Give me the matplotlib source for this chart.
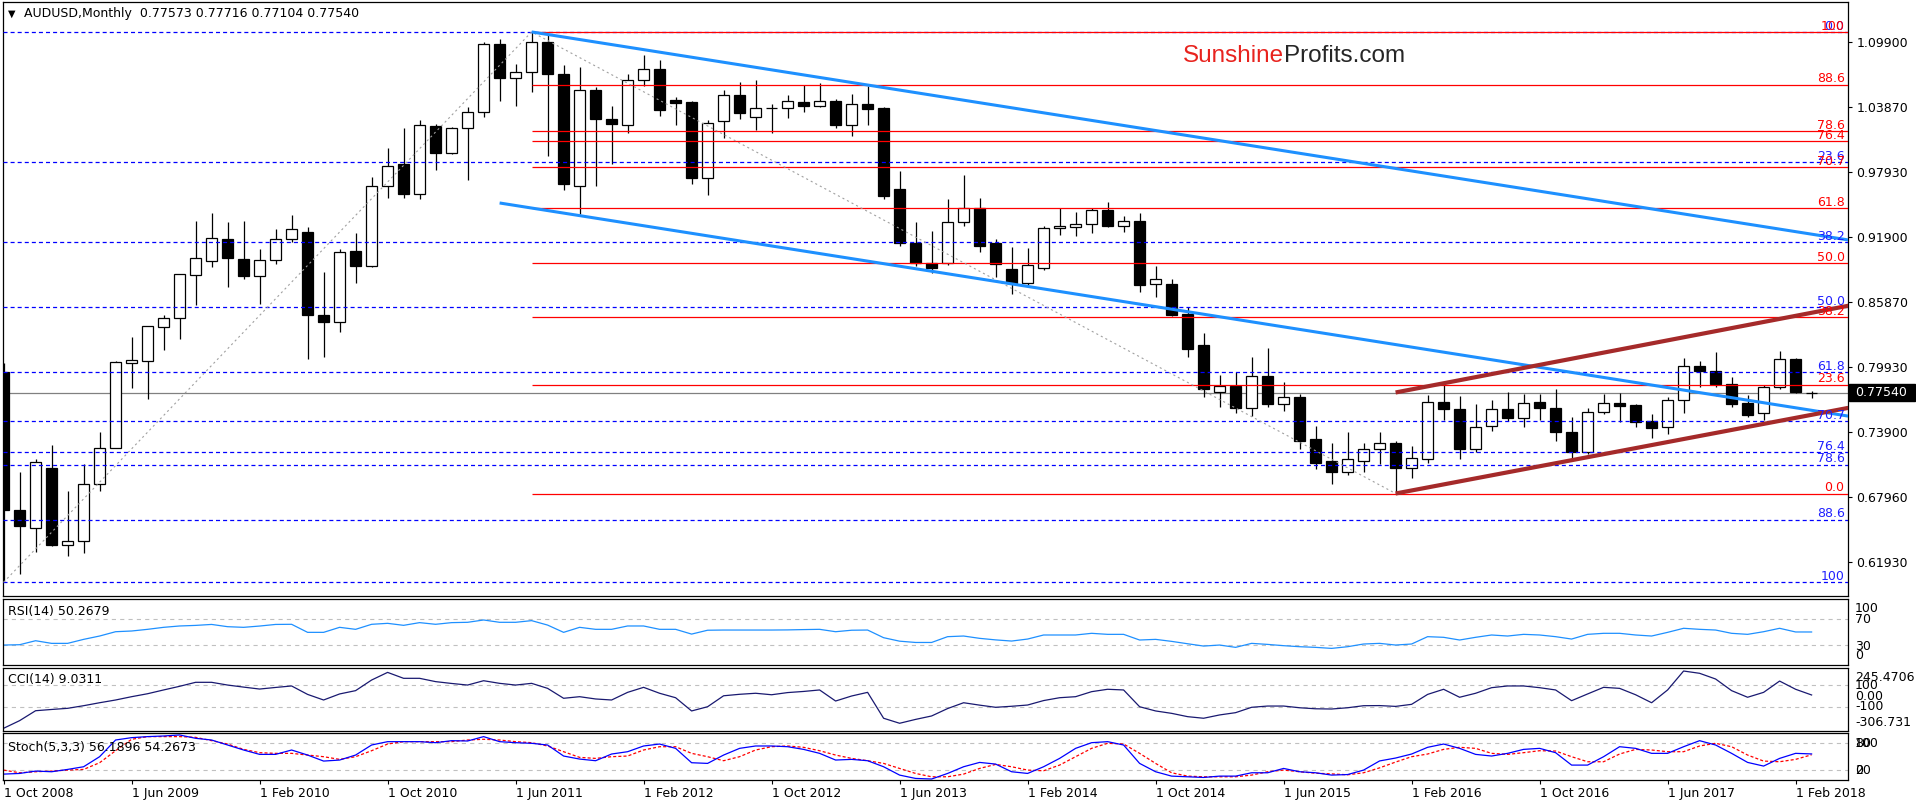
import numpy as np
import matplotlib
matplotlib.use("Agg")
import matplotlib.pyplot as plt
from matplotlib.patches import Rectangle
from matplotlib.transforms import blended_transform_factory

plt.rcParams["font.family"] = ["DejaVu Sans"]
plt.rcParams["lines.scale_dashes"] = False

W, H = 1916, 807

# ---- monthly AUDUSD candles, Oct 2008 .. Mar 2018 ----
opens = [0.7947, 0.6677, 0.6513, 0.7062, 0.6355, 0.6392, 0.6911, 0.7250, 0.8034, 0.8051,
         0.8359, 0.8440, 0.8838, 0.8965, 0.9169, 0.8992, 0.8835, 0.8975, 0.9169, 0.9237,
         0.8476, 0.8409, 0.9062, 0.8925, 0.9665, 0.9859, 0.9589, 1.0209, 0.9967, 1.0191,
         1.0339, 1.0965, 1.0660, 1.0714, 1.0990, 1.0688, 0.9656, 1.0543, 1.0279, 1.0225,
         1.0637, 1.0737, 1.0453, 1.0433, 0.9730, 1.0262, 1.0500, 1.0292, 1.0379, 1.0375,
         1.0430, 1.0399, 1.0443, 1.0225, 1.0412, 1.0379, 0.9632, 0.9136, 0.8954, 0.8948,
         0.9326, 0.9460, 0.9132, 0.8893, 0.8769, 0.8902, 0.9271, 0.9285, 0.9313, 0.9439,
         0.9295, 0.9338, 0.8755, 0.8758, 0.8478, 0.8196, 0.7759, 0.7818, 0.7612, 0.7910,
         0.7649, 0.7714, 0.7327, 0.7127, 0.7022, 0.7127, 0.7234, 0.7290, 0.7065, 0.7148,
         0.7668, 0.7603, 0.7234, 0.7449, 0.7603, 0.7520, 0.7668, 0.7612, 0.7391, 0.7212,
         0.7581, 0.7658, 0.7642, 0.7495, 0.7436, 0.7686, 0.8005, 0.7956, 0.7833, 0.7664,
         0.7566, 0.7806, 0.8067, 0.77573]
highs = [0.8030, 0.7025, 0.7142, 0.7277, 0.6848, 0.7103, 0.7394, 0.8048, 0.8269, 0.8370,
         0.8476, 0.8854, 0.9338, 0.9411, 0.9327, 0.9338, 0.9080, 0.9264, 0.9390, 0.9280,
         0.8868, 0.9080, 0.9227, 0.9743, 1.0011, 1.0195, 1.0265, 1.0228, 1.0201, 1.0385,
         1.0983, 1.1012, 1.0781, 1.1080, 1.1056, 1.0771, 1.0761, 1.0570, 1.0393, 1.0688,
         1.0872, 1.0821, 1.0480, 1.0440, 1.0269, 1.0543, 1.0620, 1.0637, 1.0420, 1.0500,
         1.0594, 1.0610, 1.0463, 1.0504, 1.0586, 1.0386, 0.9799, 0.9331, 0.9246, 0.9541,
         0.9762, 0.9550, 0.9169, 0.9101, 0.9086, 0.9295, 0.9460, 0.9418, 0.9460, 0.9516,
         0.9384, 0.9409, 0.8923, 0.8801, 0.8548, 0.8303, 0.7919, 0.7949, 0.8088, 0.8171,
         0.7852, 0.7744, 0.7449, 0.7295, 0.7394, 0.7290, 0.7394, 0.7311, 0.7265, 0.7735,
         0.7833, 0.7726, 0.7649, 0.7689, 0.7760, 0.7744, 0.7744, 0.7790, 0.7529, 0.7612,
         0.7744, 0.7756, 0.7651, 0.7560, 0.7714, 0.8073, 0.8048, 0.8128, 0.7903, 0.7735,
         0.7827, 0.8140, 0.8076, 0.77716]
lows = [0.6009, 0.6081, 0.6292, 0.6345, 0.6248, 0.6282, 0.6851, 0.7243, 0.7796, 0.7698,
        0.8151, 0.8248, 0.8567, 0.8911, 0.8734, 0.8801, 0.8577, 0.8938, 0.9146, 0.8067,
        0.8085, 0.8315, 0.8771, 0.8915, 0.9548, 0.9548, 0.9538, 0.9810, 0.9951, 0.9716,
        1.0292, 1.0446, 1.0393, 1.0530, 0.9933, 0.9625, 0.9398, 0.9662, 0.9867, 1.0151,
        1.0580, 1.0309, 1.0225, 0.9675, 0.9582, 1.0101, 1.0279, 1.0178, 1.0151, 1.0285,
        1.0346, 1.0385, 1.0191, 1.0117, 1.0225, 0.9538, 0.9112, 0.8925, 0.8856, 0.8933,
        0.9295, 0.9055, 0.8825, 0.8663, 0.8748, 0.8886, 0.9209, 0.9200, 0.9230, 0.9285,
        0.9239, 0.8687, 0.8640, 0.8460, 0.8088, 0.7719, 0.7627, 0.7566, 0.7541, 0.7621,
        0.7590, 0.7240, 0.7050, 0.6912, 0.6997, 0.7022, 0.7099, 0.6827, 0.6973, 0.7111,
        0.7504, 0.7148, 0.7212, 0.7406, 0.7498, 0.7443, 0.7504, 0.7314, 0.7151, 0.7190,
        0.7557, 0.7489, 0.7443, 0.7336, 0.7373, 0.7572, 0.7811, 0.7806, 0.7627, 0.7535,
        0.7504, 0.7793, 0.7755, 0.77104]
closes = [0.6677, 0.6523, 0.7113, 0.6355, 0.6392, 0.6911, 0.7250, 0.8037, 0.8057, 0.8366,
          0.8440, 0.8848, 0.8995, 0.9177, 0.9000, 0.8835, 0.8975, 0.9169, 0.9260, 0.8473,
          0.8409, 0.9052, 0.8925, 0.9659, 0.9849, 0.9589, 1.0218, 0.9967, 1.0191, 1.0339,
          1.0965, 1.0660, 1.0714, 1.0990, 1.0688, 0.9683, 1.0543, 1.0275, 1.0235, 1.0637,
          1.0737, 1.0363, 1.0426, 0.9730, 1.0242, 1.0500, 1.0336, 1.0379, 1.0381, 1.0443,
          1.0393, 1.0439, 1.0225, 1.0412, 1.0373, 0.9572, 0.9136, 0.8952, 0.8902, 0.9326,
          0.9460, 0.9110, 0.8939, 0.8764, 0.8930, 0.9271, 0.9289, 0.9307, 0.9439, 0.9292,
          0.9335, 0.8751, 0.8801, 0.8472, 0.8161, 0.7787, 0.7820, 0.7612, 0.7910, 0.7649,
          0.7714, 0.7314, 0.7111, 0.7022, 0.7142, 0.7234, 0.7290, 0.7065, 0.7151, 0.7668,
          0.7608, 0.7234, 0.7443, 0.7603, 0.7520, 0.7658, 0.7612, 0.7391, 0.7212, 0.7581,
          0.7658, 0.7636, 0.7489, 0.7433, 0.7686, 0.8005, 0.7956, 0.7836, 0.7652, 0.7550,
          0.7806, 0.8064, 0.7760, 0.77540]

rsi = [30, 30.5, 36.7, 32.6, 32.6, 38.8, 44, 50.7, 51.8, 54.4,
       57.5, 59.6, 60.5, 62, 58.5, 57.5, 59.5, 62, 62.2, 49.7,
       49.7, 57.5, 54.4, 62.2, 63.7, 60.6, 64.8, 62.2, 64.8, 65.3,
       68.9, 65.3, 65.3, 67.9, 61, 49.7, 57.5, 54.4, 54.4, 59.6,
       59.6, 54.4, 54.4, 47, 53, 53.3, 53.3, 53.3, 53.3, 53.5,
       54, 54.4, 50.7, 53, 53.3, 41.4, 36, 34, 34, 43,
       44, 40.4, 38, 36.2, 39.3, 45.6, 45.6, 45.6, 48.2, 46.6,
       46.6, 37.8, 38.8, 35.7, 32, 28.4, 30, 26.4, 32.6, 31,
       29, 27.4, 26.4, 24.8, 27.4, 31.6, 32.6, 30, 31.6, 43,
       42, 37.8, 42, 45.6, 44, 46.6, 45.6, 43, 39.3, 46.6,
       48.2, 48.2, 45.6, 44, 49.7, 56, 54.4, 53.3, 48.2, 46.6,
       50.7, 56, 50.3, 50.27]
cci = [-283, -216, -129, -118, -108, -85, -59, -35, -6, 20,
       53, 85, 120, 120, 96, 78, 61, 75, 88, 14,
       -35, 18, 47, 140, 207, 155, 155, 126, 110, 96,
       134, 111, 96, 111, 67, -20, -6, -26, -35, 32,
       76, 24, -15, -131, -94, 2, 15, 24, 11, 30,
       40, 53, -44, 0, 32, -195, -239, -205, -175, -110,
       -59, -80, -99, -90, -79, -40, -15, -6, 38, 59,
       53, -94, -131, -152, -181, -195, -166, -146, -99, -88,
       -88, -103, -112, -114, -103, -85, -84, -91, -73, 14,
       59, -11, 24, 73, 88, 88, 73, 53, -41, 18,
       76, 67, 11, -59, 53, 219, 199, 149, 47, -11,
       32, 131, 59, 9.03]
stoch_main = [11, 12.5, 17.8, 16.3, 21.5, 27.5, 50, 87.4, 92.7, 95,
              96.4, 98.7, 91.2, 87.4, 76.2, 65, 55.2, 55.2, 65, 53.7,
              40.2, 42.5, 53.7, 76.2, 83.7, 83.7, 83.7, 81.4, 85.9, 85.2,
              95, 83.7, 81.4, 80, 76.2, 51.5, 44.7, 41, 56, 61.2,
              74, 78.4, 68.7, 36.5, 35, 53.7, 68.7, 74, 74, 72.4,
              66.4, 57.5, 42.5, 44, 41, 27.5, 8.8, 1.3, 0, 12.5,
              27.5, 37.2, 33.5, 16.3, 12.5, 27.5, 46.2, 68.7, 81.4, 83.7,
              76.2, 35, 16.3, 6.5, 5, 3.5, 6.5, 6.5, 14, 14,
              23.7, 16.3, 14, 8.8, 10, 20, 40.5, 47, 56, 71,
              78.4, 68.7, 55.2, 51.5, 57.5, 66.4, 68.7, 59, 31.2, 31.2,
              50, 72.4, 68.7, 57.5, 57.5, 72.4, 85.9, 76.2, 57.5, 37.2,
              29, 46.2, 57.5, 56.19]
stoch_signal = [20, 14, 16.3, 17.8, 20, 21.5, 36.5, 63.4, 89, 95,
                95, 95, 93.4, 85.9, 78.4, 66.4, 59, 57.5, 57.5, 53.7,
                50, 44, 50, 63.4, 78.4, 83.7, 83.7, 83.7, 83.7, 87.4,
                89, 87.4, 83.7, 81.4, 74, 61.2, 48.5, 46.2, 50, 51.5,
                65, 72.4, 72.4, 57.5, 50, 41, 50, 65, 72.4, 74,
                71, 63.4, 53.7, 46.2, 41, 35, 23.7, 12.5, 5, 5,
                11, 23.7, 32.7, 27.5, 20, 18.5, 31.2, 50, 68.7, 80,
                78.4, 57.5, 35, 14, 6.5, 5, 5, 5, 8.8, 16.3,
                20, 16.3, 13, 11.5, 9.5, 14, 25, 38, 50, 56,
                66.4, 71, 68.7, 57.5, 55.2, 59, 63.4, 62.7, 50, 38.7,
                38.7, 56, 66.4, 65, 61.2, 61.2, 74, 80, 72.4, 53.7,
                40.2, 38.7, 44, 54.27]

date_labels = ["1 Oct 2008", "1 Jun 2009", "1 Feb 2010", "1 Oct 2010", "1 Jun 2011",
               "1 Feb 2012", "1 Oct 2012", "1 Jun 2013", "1 Feb 2014", "1 Oct 2014",
               "1 Jun 2015", "1 Feb 2016", "1 Oct 2016", "1 Jun 2017", "1 Feb 2018"]
price_ticks = [1.09900, 1.03870, 0.97930, 0.91900, 0.85870, 0.79930, 0.73900, 0.67960, 0.61930]

# fibonacci retracements
fib_levels = [0.0, 23.6, 38.2, 50.0, 61.8, 70.7, 76.4, 78.6, 88.6, 100.0]
fib_names = ["0.0", "23.6", "38.2", "50.0", "61.8", "70.7", "76.4", "78.6", "88.6", "100"]
red_fib_low, red_fib_high, red_fib_start = 0.6827, 1.1080, 33
blue_fib_low, blue_fib_high = 0.6009, 1.1080

# trend lines (anchor points, bar index / price)
blue_top_x, blue_top_y = [33, 115.3], [1.1080, 0.9163]
blue_bot_x, blue_bot_y = [31, 115.3], [0.9504, 0.7540]
brown_top_x, brown_top_y = [87, 115.4], [0.7758, 0.8560]
brown_bot_x, brown_bot_y = [87, 115.4], [0.6827, 0.7619]
zigzag_x, zigzag_y = [0, 33, 87], [0.6009, 1.1080, 0.6827]

last_price = 0.77540

XMIN, XMAX = -0.0375, 115.275

fig = plt.figure(figsize=(W / 100, H / 100), dpi=100)
fig.patch.set_facecolor("white")


def panel(l, t, r, b):
    a = fig.add_axes([l / W, 1 - b / H, (r - l) / W, (b - t) / H])
    a.set_xlim(XMIN, XMAX)
    for s in a.spines.values():
        s.set_linewidth(0.9)
        s.set_color("black")
    a.tick_params(axis="x", bottom=False, labelbottom=False)
    a.yaxis.tick_right()
    a.tick_params(axis="y", right=False, labelright=False)
    return a


ax = panel(3, 2, 1848, 596)
ax_rsi = panel(3, 599, 1848, 665)
ax_cci = panel(3, 668, 1848, 731)
ax_st = panel(3, 733, 1848, 780)

# ---- main chart ----
o = np.array(opens)
c = np.array(closes)
x = np.arange(len(c))
ax.set_ylim(0.58826, 1.13558)
ax.vlines(x, lows, highs, color="black", lw=0.9, zorder=3)
ax.bar(x, np.maximum(np.abs(c - o), 0.0002), bottom=np.minimum(o, c), width=0.64,
       color=np.where(c >= o, "white", "black"), edgecolor="black", linewidth=0.9, zorder=4)

ax.axhline(last_price, color="#808080", lw=0.9, zorder=2)

blue_dash = (0, (2.9, 2.2))
for lvl, name in zip(fib_levels, fib_names):
    p = blue_fib_high - lvl / 100 * (blue_fib_high - blue_fib_low)
    ax.hlines(p, XMIN, XMAX, color="#0000ff", lw=0.9, linestyles=[blue_dash], zorder=5)
    ax.annotate(name, xy=(XMAX, p), xytext=(-2.5, 1.5), textcoords="offset points",
                ha="right", va="baseline", color="#2020ff", fontsize=9, zorder=7,
                annotation_clip=False)
for lvl, name in zip(fib_levels, fib_names):
    p = red_fib_low + lvl / 100 * (red_fib_high - red_fib_low)
    ax.hlines(p, red_fib_start, XMAX, color="#ff0000", lw=0.9, zorder=5)
    ax.annotate(name, xy=(XMAX, p), xytext=(-2.5, 1.5), textcoords="offset points",
                ha="right", va="baseline", color="#ff0000", fontsize=9, zorder=7,
                annotation_clip=False)

ax.plot(zigzag_x, zigzag_y, color="#a0a0a0", lw=0.8, ls=(0, (1.5, 2.2)), zorder=5)
ax.plot(blue_top_x, blue_top_y, color="#1e90ff", lw=2.2, zorder=6, solid_capstyle="butt")
ax.plot(blue_bot_x, blue_bot_y, color="#1e90ff", lw=2.2, zorder=6, solid_capstyle="butt")
ax.plot(brown_top_x, brown_top_y, color="#a52a2a", lw=3.0, zorder=6, solid_capstyle="butt")
ax.plot(brown_bot_x, brown_bot_y, color="#a52a2a", lw=3.0, zorder=6, solid_capstyle="butt")

ax.tick_params(axis="y", right=True, labelright=True, direction="out", length=3,
               width=0.8, pad=3, labelsize=9)
ax.set_yticks(price_ticks)
ax.set_yticklabels([f"{t:.5f}" for t in price_ticks])

# current price box
tr = blended_transform_factory(fig.transFigure, ax.transData)
ax.add_patch(Rectangle((1849 / W, last_price - 0.0079), 66 / W, 0.0158, transform=tr,
                       facecolor="black", edgecolor="black", clip_on=False, zorder=8))
ax.text(1855 / W, last_price, f"{last_price:.5f}", transform=tr, color="white",
        fontsize=9, va="center", ha="left", zorder=9)

fig.text(8 / W, 1 - 14 / H, "\u25bc", fontsize=7, va="center", ha="left")
fig.text(24 / W, 1 - 14 / H, "AUDUSD,Monthly  0.77573 0.77716 0.77104 0.77540",
         fontsize=9, va="center", ha="left")

fig.text(1284 / W, 1 - 56 / H, "Sunshine", color="#e8231e", fontsize=17.5,
         family="Liberation Sans", ha="right", va="center")
fig.text(1284 / W, 1 - 56 / H, "Profits.com", color="#262626", fontsize=17.5,
         family="Liberation Sans", ha="left", va="center")

# ---- indicators ----
grid_dash = (0, (3, 3))


def side_label(a, txt, yv):
    a.annotate(txt, xy=(1, yv), xycoords=("axes fraction", "data"), xytext=(5, 0),
               textcoords="offset points", ha="left", va="center", fontsize=9,
               annotation_clip=False)


ax_rsi.set_ylim(-1, 101.5)
for lv in (70, 30):
    ax_rsi.axhline(lv, color="#c0c0c0", lw=0.8, ls=grid_dash)
ax_rsi.plot(x, rsi, color="#1e90ff", lw=0.9)
for txt, yv in (("100", 86), ("70", 69), ("30", 28.5), ("0", 13)):
    side_label(ax_rsi, txt, yv)
fig.text(8 / W, 1 - 612 / H, "RSI(14) 50.2679", fontsize=9, va="center", ha="left")

ax_cci.set_ylim(-306.731, 245.4706)
for lv in (100, -100):
    ax_cci.axhline(lv, color="#c0c0c0", lw=0.8, ls=grid_dash)
ax_cci.plot(x, cci, color="#191970", lw=0.9)
for txt, yv in (("245.4706", 166), ("100", 88), ("0.00", 0), ("-100", -96), ("-306.731", -228)):
    side_label(ax_cci, txt, yv)
fig.text(8 / W, 1 - 680 / H, "CCI(14) 9.0311", fontsize=9, va="center", ha="left")

ax_st.set_ylim(-2.2, 103.1)
for lv in (80, 20):
    ax_st.axhline(lv, color="#c0c0c0", lw=0.8, ls=grid_dash)
ax_st.plot(x, stoch_signal, color="#ff0000", lw=0.9, ls=(0, (2.2, 1.5)))
ax_st.plot(x, stoch_main, color="#0000ff", lw=0.9)
for txt, yv in (("100", 80), ("80", 80), ("20", 20), ("0", 20)):
    side_label(ax_st, txt, yv)
fig.text(8 / W, 1 - 747 / H, "Stoch(5,3,3) 56.1896 54.2673", fontsize=9, va="center", ha="left")

ax_st.tick_params(axis="x", bottom=True, labelbottom=True, direction="out", length=3,
                  width=0.8, pad=2, labelsize=9)
ax_st.set_xticks(np.arange(0, 8 * len(date_labels), 8))
ax_st.set_xticklabels(date_labels, ha="left")

fig.savefig("out.png", dpi=100, facecolor="white")
